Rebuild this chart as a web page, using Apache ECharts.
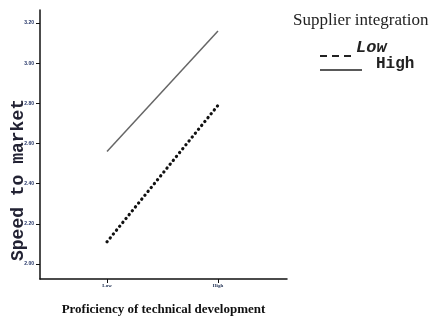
<!DOCTYPE html>
<html><head><meta charset="utf-8">
<script src="https://cdn.jsdelivr.net/npm/echarts@6/dist/echarts.min.js"></script>
<style>html,body{margin:0;padding:0;background:#fff}#c{width:433px;height:327px}</style>
</head><body><div id="c"></div>
<script>
const categories = ["Low", "High"];
const xPositions = [1, 2];
const yTicks = [2.0, 2.2, 2.4, 2.6, 2.8, 3.0, 3.2];
const lowIntegration = [2.11, 2.79];
const highIntegration = [2.56, 3.16];
const seriesNames = ["Low", "High"];

const chart = echarts.init(document.getElementById('c'), null, {renderer: 'canvas'});
const pairs = arr => arr.map((v, i) => [xPositions[i], v]);
chart.setOption({
  animation: false,
  backgroundColor: '#fff',
  grid: {left: 40, right: 146, top: 10, bottom: 48, containLabel: false, outerBoundsMode: 'none'},
  xAxis: {
    type: 'value', min: 0.396, max: 2.622,
    splitLine: {show: false},
    axisLine: {lineStyle: {color: '#111', width: 1.5}},
    axisTick: {customValues: xPositions, length: 4, lineStyle: {color: '#111'}},
    axisLabel: {customValues: xPositions, formatter: v => categories[xPositions.indexOf(v)] || '',
      fontSize: 5, fontWeight: 'bold', color: '#223355', fontFamily: 'Liberation Serif', margin: 4},
    name: 'Proficiency of technical development', nameLocation: 'middle', nameGap: 24,
    nameTextStyle: {fontFamily: 'Liberation Serif', fontSize: 13, fontWeight: 'bold', color: '#111'}
  },
  yAxis: {
    type: 'value', min: 1.925, max: 3.265,
    splitLine: {show: false},
    axisLine: {show: true, lineStyle: {color: '#111', width: 1.5}},
    axisTick: {show: true, customValues: yTicks, length: 4, lineStyle: {color: '#111'}},
    axisLabel: {customValues: yTicks, formatter: v => v.toFixed(2), fontSize: 5, fontWeight: 'bold',
      color: '#223366', fontFamily: 'Liberation Sans', margin: 6}
  },
  series: [
    {name: seriesNames[0], type: 'line', data: pairs(lowIntegration), symbol: 'none',
      lineStyle: {color: '#111', width: 3.2, type: [0.2, 4.8], cap: 'round'}},
    {name: seriesNames[1], type: 'line', data: pairs(highIntegration), symbol: 'none',
      lineStyle: {color: '#666', width: 1.5}}
  ],
  graphic: [
    {type: 'text', x: 18, y: 180, rotation: Math.PI / 2,
      style: {text: 'Speed to market', font: 'bold 18px "Liberation Mono"', fill: '#222233', align: 'center', verticalAlign: 'middle'}},
    {type: 'text', left: 293, top: 12, style: {text: 'Supplier integration', font: '17px "Liberation Serif"', fill: '#222'}},
    {type: 'line', shape: {x1: 320, y1: 56, x2: 352, y2: 56}, style: {stroke: '#222', lineWidth: 2, lineDash: [7, 5]}},
    {type: 'text', left: 356, top: 39, style: {text: seriesNames[0], font: 'italic bold 17px "Liberation Mono"', fill: '#222'}},
    {type: 'line', shape: {x1: 320, y1: 70, x2: 362, y2: 70}, style: {stroke: '#222', lineWidth: 1.5}},
    {type: 'text', left: 376, top: 56, style: {text: seriesNames[1], font: 'bold 16px "Liberation Mono"', fill: '#222'}}
  ]
});
</script></body></html>
